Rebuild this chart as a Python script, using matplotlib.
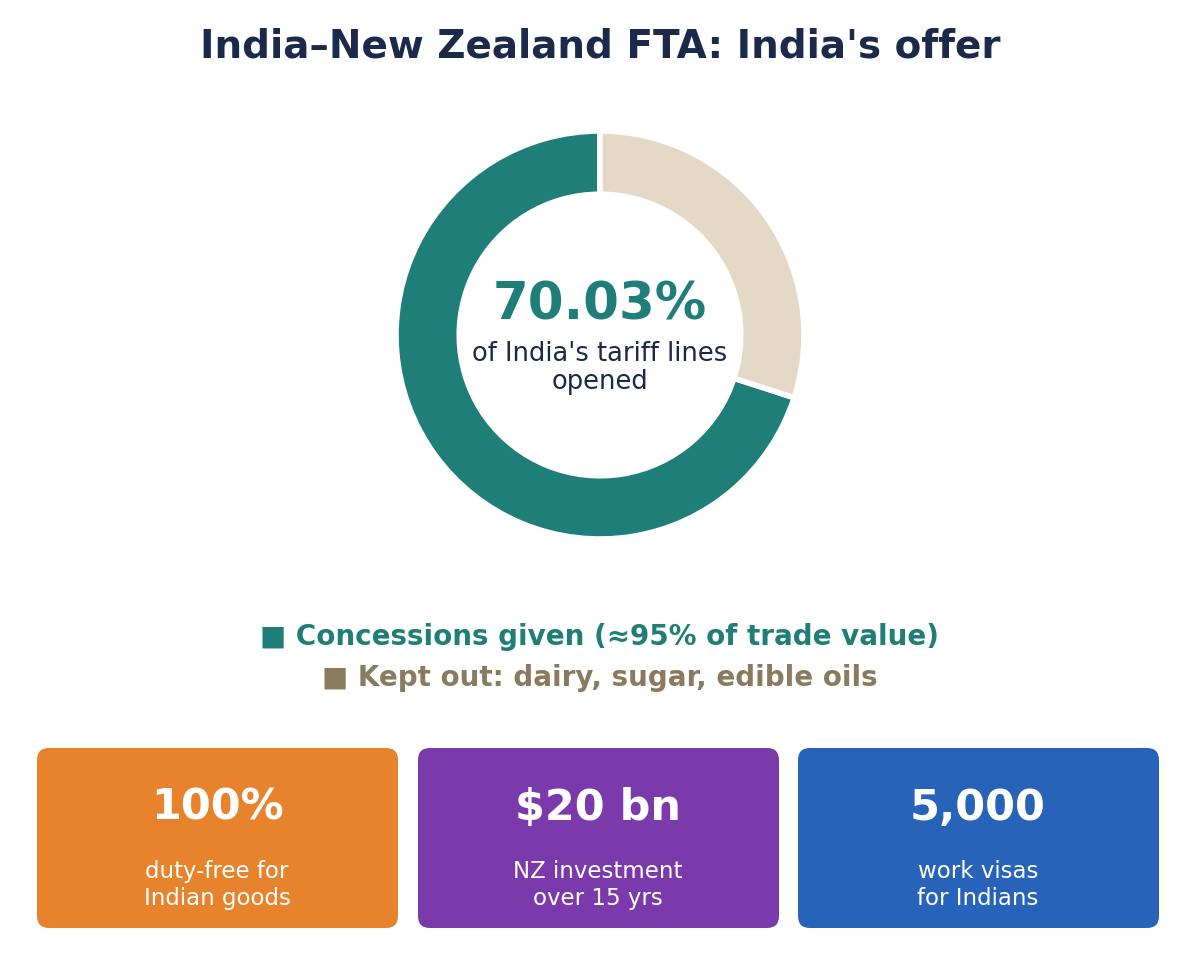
import matplotlib.pyplot as plt
from matplotlib.patches import FancyBboxPatch

shares = [70.03, 29.97]
share_colors = ["#1F7F78", "#E3D9C6"]
legend_lines = ["■ Concessions given (≈95% of trade value)", "■ Kept out: dairy, sugar, edible oils"]
legend_colors = ["#1F7F78", "#8B7B5E"]
card_values = ["100%", "$20 bn", "5,000"]
card_labels = ["duty-free for\nIndian goods", "NZ investment\nover 15 yrs", "work visas\nfor Indians"]
card_colors = ["#E8832D", "#7B3AAB", "#2763B8"]

W, H = 1200, 968
fig = plt.figure(figsize=(12, 9.68), dpi=100)
fig.patch.set_facecolor("white")

# donut first, so the text axes sits on top
r = 204
pie_ax = fig.add_axes([(600 - r) / W, 1 - (335 + r) / H, 2 * r / W, 2 * r / H])
pie_ax.pie(shares, colors=share_colors, startangle=90, counterclock=True,
           wedgeprops=dict(width=0.31, edgecolor="white", linewidth=4))
pie_ax.set_xlim(-1, 1)
pie_ax.set_ylim(-1, 1)
pie_ax.set_aspect("equal")
pie_ax.axis("off")

# text / cards axes in pixel coords (y down)
bg = fig.add_axes([0, 0, 1, 1])
bg.patch.set_visible(False)
bg.set_xlim(0, W)
bg.set_ylim(H, 0)
bg.axis("off")

bg.text(600, 47, "India–New Zealand FTA: India's offer", ha="center", va="center",
        fontsize=28, weight="bold", color="#1B2A4A")

bg.text(600, 305, f"{shares[0]:.2f}%", ha="center", va="center",
        fontsize=37, weight="bold", color="#1F7F78")
bg.text(600, 368, "of India's tariff lines\nopened", ha="center", va="center",
        fontsize=18.5, color="#1B2A4A", linespacing=1.1)

for i, (line, col) in enumerate(zip(legend_lines, legend_colors)):
    bg.text(600, 637 + i * 41, line, ha="center", va="center",
            fontsize=20, weight="bold", color=col)

x0s = [37, 418, 798]
for x, val, lab, col in zip(x0s, card_values, card_labels, card_colors):
    box = FancyBboxPatch((x, 748), 361, 180, boxstyle="round,pad=0,rounding_size=12",
                         facecolor=col, edgecolor="none")
    bg.add_patch(box)
    bg.text(x + 180, 808, val, ha="center", va="center", fontsize=31,
            weight="bold", color="white")
    bg.text(x + 180, 885, lab, ha="center", va="center", fontsize=16.5,
            color="white", linespacing=1.25)

fig.savefig("out.png", dpi=100, facecolor="white")
